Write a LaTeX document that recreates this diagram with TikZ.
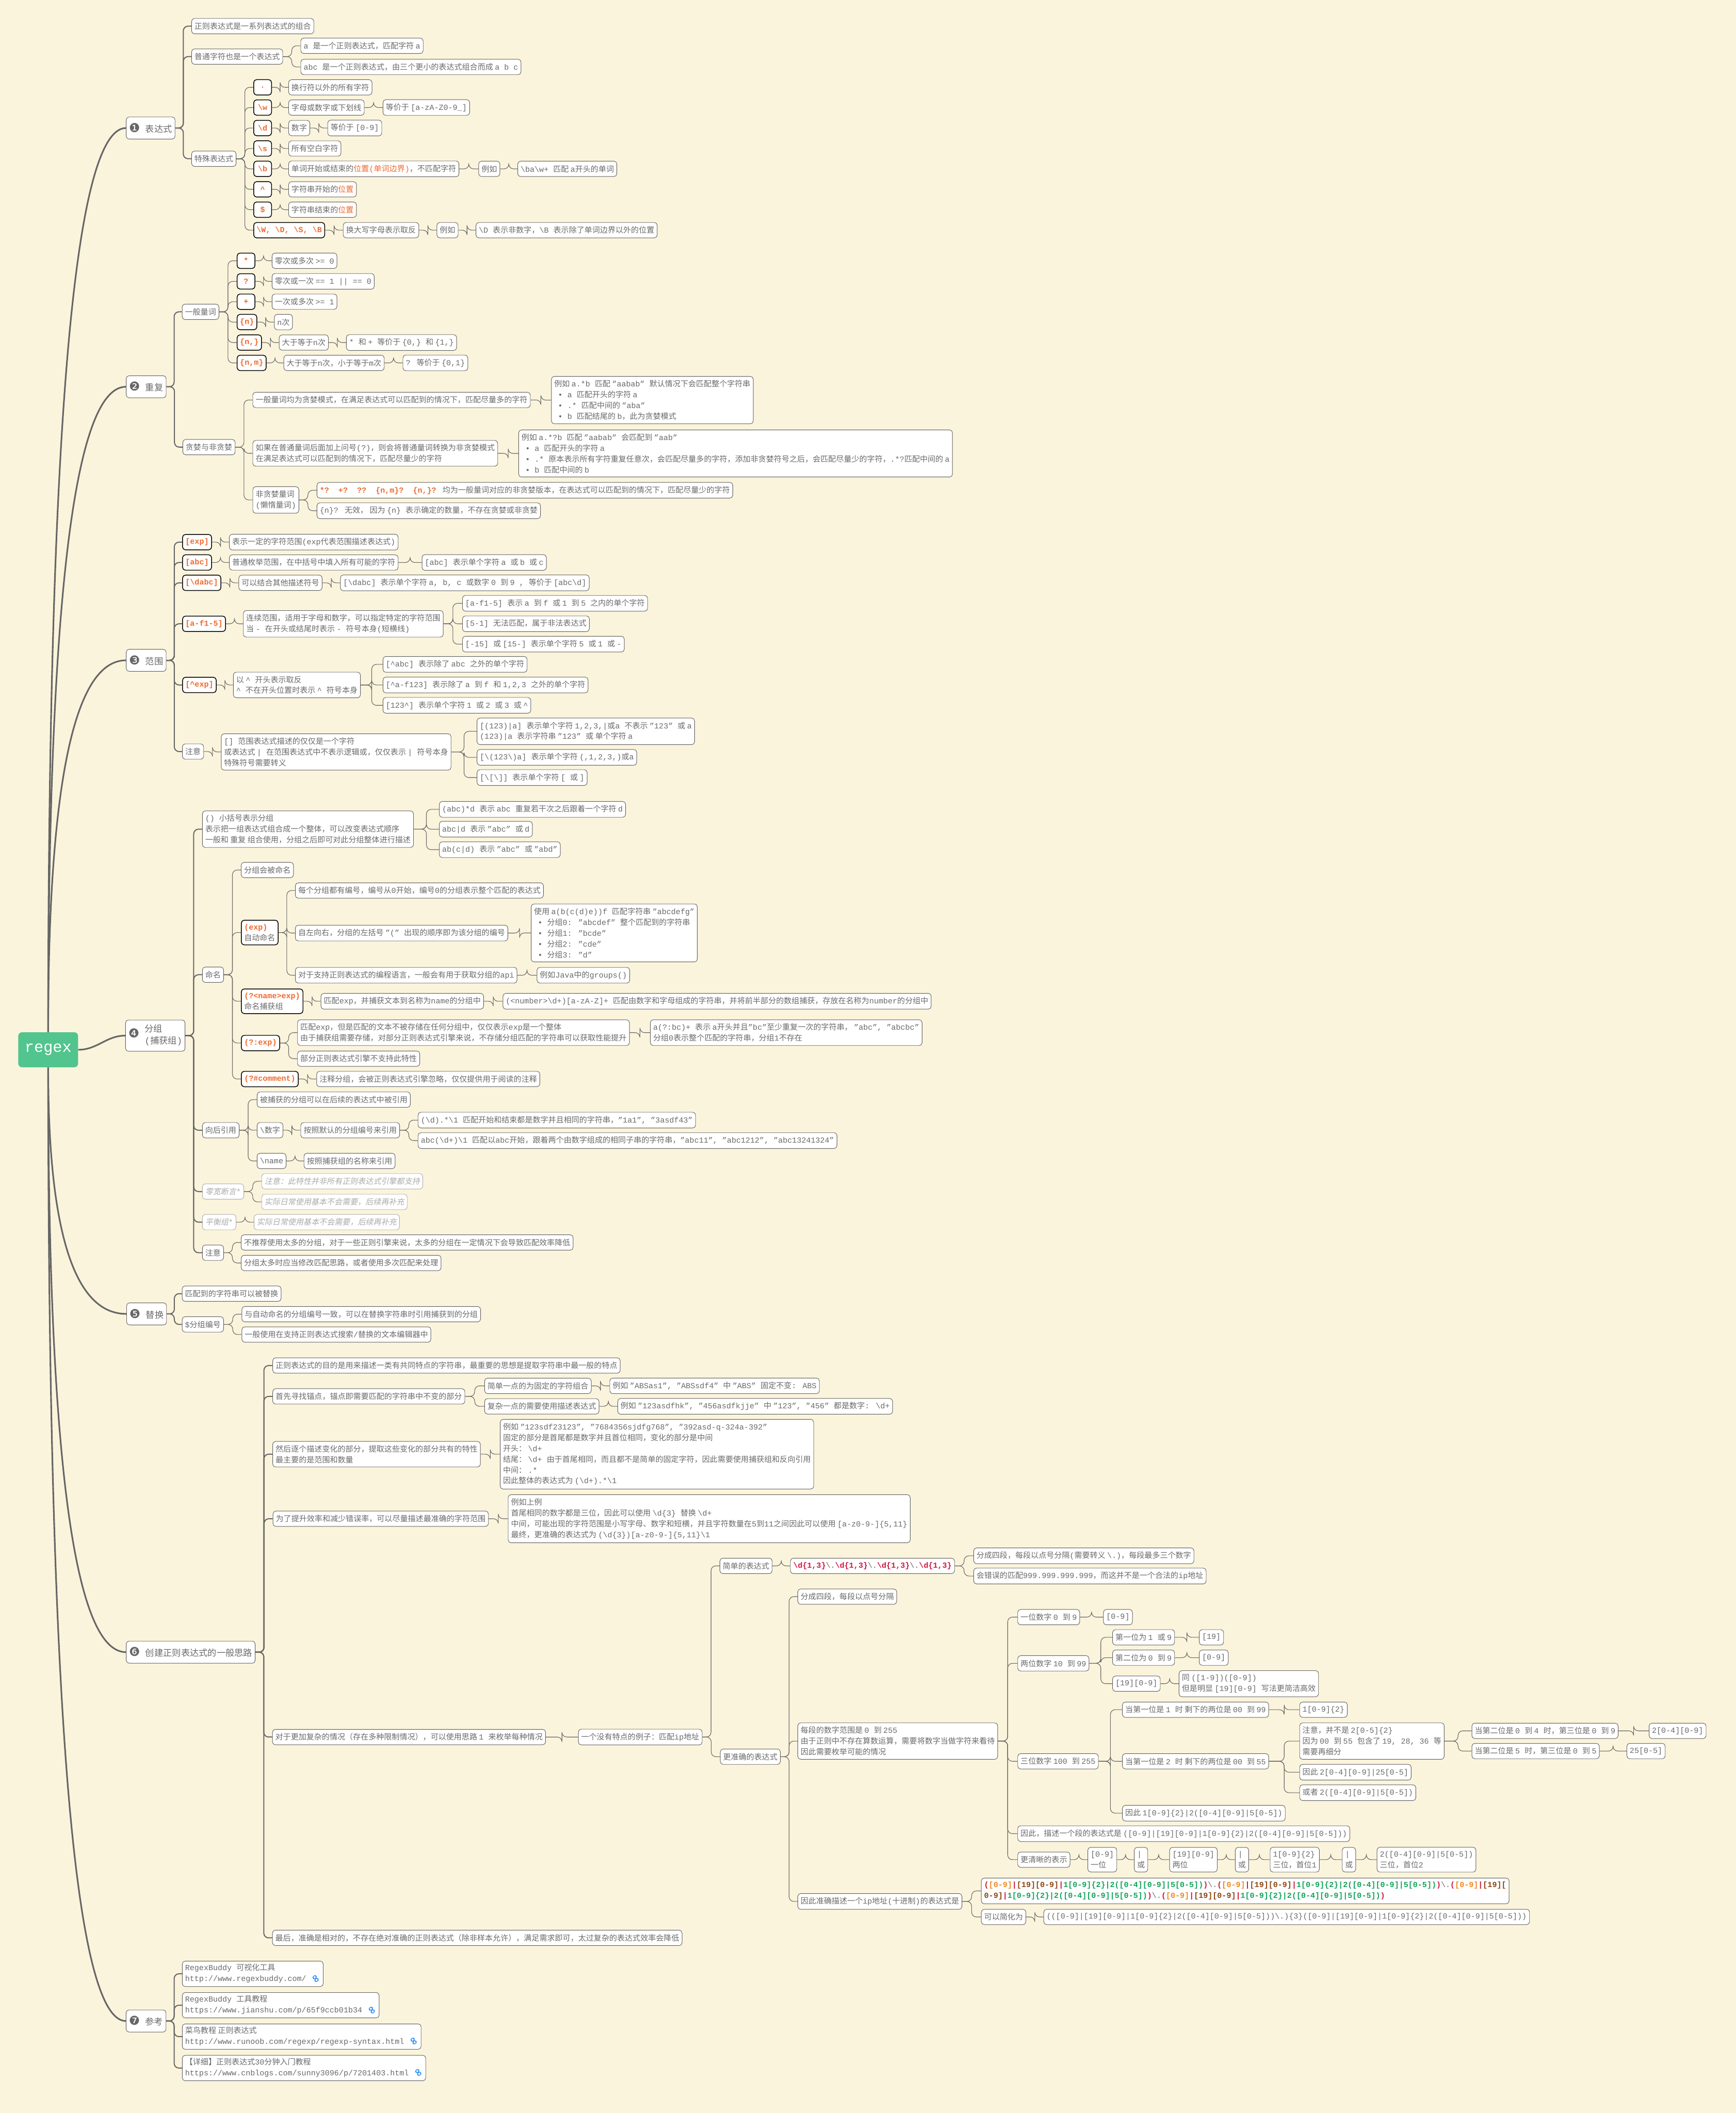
\documentclass[tikz,border=0pt]{standalone}
\usepackage{fontspec}
\usepackage{graphicx}
\usetikzlibrary{calc}

\setmainfont{Liberation Mono}
\newfontfamily\cjkregular{Noto Sans CJK SC}
\newfontfamily\cjkslanted{Noto Sans CJK SC}[FakeSlant=0.2]
\newfontfamily\dingfont{DejaVu Sans}
\let\cjkcur\cjkregular
\newcommand\tocjk{\cjkcur}
\newcommand\tolatin{\rmfamily}

% Han and full-width characters go to the CJK font, the rest stays mono
\XeTeXinterchartokenstate=1
\newXeTeXintercharclass\cjkclass
\newXeTeXintercharclass\symclass
\newcount\charidx
\newcommand\charrange[3]{\charidx=#2\relax
  \loop\XeTeXcharclass\charidx=#1\relax
    \ifnum\charidx<#3\relax\advance\charidx by 1\repeat}
\charrange\cjkclass{"3000}{"303F}
\charrange\cjkclass{"4E00}{"9FFF}
\charrange\cjkclass{"FF00}{"FFEF}
\charrange\symclass{"2776}{"277F}
\XeTeXcharclass"221E=\symclass
\XeTeXinterchartoks 0 \cjkclass={\tocjk}
\XeTeXinterchartoks 4095 \cjkclass={\tocjk}
\XeTeXinterchartoks \symclass \cjkclass={\tocjk}
\XeTeXinterchartoks \cjkclass 0={\tolatin}
\XeTeXinterchartoks 4095 0={\tolatin}
\XeTeXinterchartoks \symclass 0={\tolatin}

\definecolor{bgcream}{HTML}{FBF4DC}
\definecolor{linegray}{HTML}{666666}
\definecolor{boxgray}{HTML}{5E5E5E}
\definecolor{txtgray}{HTML}{6A6A6A}
\definecolor{keyorange}{HTML}{F06A2E}
\definecolor{rootgreen}{HTML}{52C48D}
\definecolor{numgray}{HTML}{666666}
\definecolor{faintgray}{HTML}{ABABAB}
\definecolor{linkblue}{HTML}{1F8AF2}
\definecolor{excrimson}{HTML}{D0163F}
\definecolor{exorange}{HTML}{EF8A1F}
\definecolor{exbrown}{HTML}{8B4513}
\definecolor{exgreen}{HTML}{13A35B}

\newcommand\bsl{\textbackslash}
\newcommand\crt{\textasciicircum}
\newcommand\bul{\hspace*{4pt}•\ }
\newcommand\secnum[1]{{\dingfont\fontsize{13}{13}\selectfont\color{numgray}#1}}
\newcommand\linkicon{\raisebox{-0.3ex}{\rotatebox{-55}{\dingfont\bfseries\fontsize{11}{11}\selectfont\color{linkblue}∞}}}
\newcommand\ipred[1]{\textcolor{excrimson}{\bfseries #1}}
\newcommand\iporange[1]{\textcolor{exorange}{\bfseries #1}}
\newcommand\ipbrown[1]{\textcolor{exbrown}{\bfseries #1}}
\newcommand\ipgreen[1]{\textcolor{exgreen}{\bfseries #1}}
\newcommand\ipdot{\textcolor{txtgray}{\bsl .}}
\newcommand\ipseg{\ipred{(}\iporange{[0-9]}\ipred{|}\ipbrown{[19][0-9]}\ipred{|}\ipgreen{1[0-9]\{2\}|2([0-4][0-9]|5[0-5])}\ipred{)}}

\begin{document}
\begin{tikzpicture}[
    x=0.05cm, y=-0.05cm,
    font=\fontsize{8.2}{11.4}\selectfont,
    box/.style={rectangle, draw=boxgray, fill=white, text=txtgray,
      rounded corners=3pt, line width=0.5pt, anchor=west, align=left,
      inner xsep=3pt, inner ysep=4pt, minimum height=0.57cm},
    keybox/.style={box, draw=black, line width=0.8pt, text=keyorange,
      minimum width=0.66cm, font=\fontsize{8.2}{11.4}\selectfont\bfseries},
    markbox/.style={box, draw=black, line width=0.8pt},
    faint/.style={box, draw=faintgray, text=faintgray,
      font=\fontsize{8.2}{11.4}\selectfont\let\cjkcur\cjkslanted},
    sect/.style={box, minimum height=0.82cm, font=\fontsize{9.4}{12.5}\selectfont},
    refbox/.style={box, inner ysep=2pt},
    root/.style={rectangle, fill=rootgreen, text=white, rounded corners=4pt,
      minimum width=2.22cm, minimum height=1.3cm,
      font=\fontsize{16.5}{18}\selectfont},
    link/.style={draw=linegray, line width=0.6pt, rounded corners=5pt,
      to path={-- ($(\tikztostart)!0.5!(\tikztostart -| \tikztotarget)$)
        |- (\tikztotarget)}},
    slink/.style={link, line width=1.1pt},
    rlink/.style={draw=linegray, line width=1.7pt,
      to path={.. controls ($(\tikztostart)!0.8!(\tikztostart |- \tikztotarget)$)
        and ($(\tikztotarget)+(-30,0)$) .. (\tikztotarget)}}
  ]
  \fill [bgcream] (0,0) rectangle (1288,1568);
  \useasboundingbox (0,0) rectangle (1288,1568);

  \node [root] (root) at (35.75, 779) {regex};

  % 1 表达式
  \node [sect] (s_expr) at (93.5, 95) {\secnum{❶}\ 表达式};
  \node [box] (e_combo) at (142, 19.4) {正则表达式是一系列表达式的组合};
  \node [box] (e_plain) at (142, 42) {普通字符也是一个表达式};
  \node [box] (e_a) at (223, 34) {a 是一个正则表达式，匹配字符 a};
  \node [box] (e_abc) at (223, 49.7) {abc 是一个正则表达式，由三个更小的表达式组合而成 a b c};
  \node [box] (e_special) at (142, 117.8) {特殊表达式};
  \node [keybox] (e_dot) at (188, 64.8) {.};
  \node [box] (e_dot_d) at (214, 64.8) {换行符以外的所有字符};
  \node [keybox] (e_w) at (188, 79.8) {\bsl w};
  \node [box] (e_w_d) at (214, 79.8) {字母或数字或下划线};
  \node [box] (e_w_eq) at (284, 79.8) {等价于 [a-zA-Z0-9\_]};
  \node [keybox] (e_d) at (188, 95) {\bsl d};
  \node [box] (e_d_d) at (214, 95) {数字};
  \node [box] (e_d_eq) at (243, 95) {等价于 [0-9]};
  \node [keybox] (e_s) at (188, 110.2) {\bsl s};
  \node [box] (e_s_d) at (214, 110.2) {所有空白字符};
  \node [keybox] (e_b) at (188, 125.3) {\bsl b};
  \node [box] (e_b_d) at (214, 125.3) {单词开始或结束的\textcolor{keyorange}{位置(单词边界)}，不匹配字符};
  \node [box] (e_b_eg) at (355, 125.3) {例如};
  \node [box] (e_b_ex) at (384, 125.3) {\bsl ba\bsl w+ 匹配 a开头的单词};
  \node [keybox] (e_start) at (188, 140.5) {\crt};
  \node [box] (e_start_d) at (214, 140.5) {字符串开始的\textcolor{keyorange}{位置}};
  \node [keybox] (e_end) at (188, 155.6) {\$};
  \node [box] (e_end_d) at (214, 155.6) {字符串结束的\textcolor{keyorange}{位置}};
  \node [keybox] (e_neg) at (188, 170.8) {\bsl W, \bsl D, \bsl S, \bsl B};
  \node [box] (e_neg_d) at (254.5, 170.8) {换大写字母表示取反};
  \node [box] (e_neg_eg) at (324, 170.8) {例如};
  \node [box] (e_neg_ex) at (353, 170.8) {\bsl D 表示非数字，\bsl B 表示除了单词边界以外的位置};

  % 2 重复
  \node [sect] (s_rep) at (93.5, 287) {\secnum{❷}\ 重复};
  \node [box] (q_general) at (135, 231.4) {一般量词};
  \node [keybox] (q_star) at (175.7, 193.5) {*};
  \node [box] (q_star_d) at (201.7, 193.5) {零次或多次 >= 0};
  \node [keybox] (q_opt) at (175.7, 208.8) {?};
  \node [box] (q_opt_d) at (201.7, 208.8) {零次或一次 == 1 || == 0};
  \node [keybox] (q_plus) at (175.7, 223.9) {+};
  \node [box] (q_plus_d) at (201.7, 223.9) {一次或多次 >= 1};
  \node [keybox] (q_n) at (175.7, 239) {\{n\}};
  \node [box] (q_n_d) at (203.4, 239) {n次};
  \node [keybox] (q_nmin) at (175.7, 254.2) {\{n,\}};
  \node [box] (q_nmin_d) at (207, 254.2) {大于等于n次};
  \node [box] (q_nmin_eq) at (256.8, 254.2) {* 和 + 等价于 \{0,\} 和 \{1,\}};
  \node [keybox] (q_nm) at (175.7, 269.3) {\{n,m\}};
  \node [box] (q_nm_d) at (210.4, 269.3) {大于等于n次，小于等于m次};
  \node [box] (q_nm_eq) at (298.8, 269.3) {? 等价于 \{0,1\}};
  \node [box] (q_greedy) at (135.5, 331.8) {贪婪与非贪婪};
  \node [box] (q_g1) at (187.4, 296.8) {一般量词均为贪婪模式，在满足表达式可以匹配到的情况下，匹配尽量多的字符};
  \node [box] (q_g1_ex) at (409, 296.9) {例如 a.*b 匹配 "aabab" 默认情况下会匹配整个字符串\\\bul a 匹配开头的字符 a\\\bul .* 匹配中间的 "aba"\\\bul b 匹配结尾的 b，此为贪婪模式};
  \node [box] (q_g2) at (187.4, 336.4) {如果在普通量词后面加上问号(?)，则会将普通量词转换为非贪婪模式\\在满足表达式可以匹配到的情况下，匹配尽量少的字符};
  \node [box] (q_g2_ex) at (384.7, 336.5) {例如 a.*?b 匹配 "aabab" 会匹配到 "aab"\\\bul a 匹配开头的字符 a\\\bul .* 原本表示所有字符重复任意次，会匹配尽量多的字符，添加非贪婪符号之后，会匹配尽量少的字符，.*?匹配中间的 a\\\bul b 匹配中间的 b};
  \node [box] (q_lazy) at (187.4, 371) {非贪婪量词\\(懒惰量词)};
  \node [box] (q_lazy1) at (235, 363.8) {\textcolor{keyorange}{\bfseries *?\ \ +?\ \ ??\ \ \{n,m\}?\ \ \{n,\}?} 均为一般量词对应的非贪婪版本，在表达式可以匹配到的情况下，匹配尽量少的字符};
  \node [box] (q_lazy2) at (235, 379) {\{n\}? 无效， 因为 \{n\} 表示确定的数量，不存在贪婪或非贪婪};

  % 3 范围
  \node [sect] (s_range) at (93.5, 490) {\secnum{❸}\ 范围};
  \node [keybox] (r_exp) at (135.2, 402.3) {[exp]};
  \node [box] (r_exp_d) at (170, 402.3) {表示一定的字符范围(exp代表范围描述表达式)};
  \node [keybox] (r_abc) at (135.2, 417.4) {[abc]};
  \node [box] (r_abc_d) at (170, 417.4) {普通枚举范围，在中括号中填入所有可能的字符};
  \node [box] (r_abc_ex) at (313, 417.4) {[abc] 表示单个字符 a 或 b 或 c};
  \node [keybox] (r_dabc) at (135.2, 432.5) {[\bsl dabc]};
  \node [box] (r_dabc_d) at (177, 432.5) {可以结合其他描述符号};
  \node [box] (r_dabc_ex) at (252.4, 432.5) {[\bsl dabc] 表示单个字符 a, b, c 或数字 0 到 9 , 等价于 [abc\bsl d]};
  \node [keybox] (r_span) at (135.2, 462.9) {[a-f1-5]};
  \node [box] (r_span_d) at (180.4, 462.9) {连续范围，适用于字母和数字，可以指定特定的字符范围\\当 - 在开头或结尾时表示 - 符号本身(短横线)};
  \node [box] (r_span1) at (343, 447.7) {[a-f1-5] 表示 a 到 f 或 1 到 5 之内的单个字符};
  \node [box] (r_span2) at (343, 462.9) {[5-1] 无法匹配，属于非法表达式};
  \node [box] (r_span3) at (343, 478) {[-15] 或 [15-] 表示单个字符 5 或 1 或 -};
  \node [keybox] (r_neg) at (135.2, 508.3) {[\crt exp]};
  \node [box] (r_neg_d) at (173, 508.3) {以 \crt{} 开头表示取反\\\crt{} 不在开头位置时表示 \crt{} 符号本身};
  \node [box] (r_neg1) at (284, 493) {[\crt abc] 表示除了 abc 之外的单个字符};
  \node [box] (r_neg2) at (284, 508.3) {[\crt a-f123] 表示除了 a 到 f 和 1,2,3 之外的单个字符};
  \node [box] (r_neg3) at (284, 523.4) {[123\crt] 表示单个字符 1 或 2 或 3 或 \crt};
  \node [box] (r_note) at (135.2, 557.7) {注意};
  \node [box] (r_note_d) at (164, 558) {[] 范围表达式描述的仅仅是一个字符\\或表达式 | 在范围表达式中不表示逻辑或，仅仅表示 | 符号本身\\特殊符号需要转义};
  \node [box] (r_note1) at (353.8, 542.7) {[(123)|a] 表示单个字符 1,2,3,|或a 不表示 "123" 或 a\\(123)|a 表示字符串 "123" 或 单个字符 a};
  \node [box] (r_note2) at (353.8, 562) {[\bsl (123\bsl )a] 表示单个字符 (,1,2,3,)或a};
  \node [box] (r_note3) at (353.8, 577) {[\bsl [\bsl ]] 表示单个字符 [ 或 ]};

  % 4 分组
  \node [sect] (s_group) at (93, 768.5) {\secnum{❹}\ \begin{tabular}{@{}l@{}}分组\\(捕获组)\end{tabular}};
  \node [box] (g_paren) at (150, 615.3) {() 小括号表示分组\\表示把一组表达式组合成一个整体，可以改变表达式顺序\\一般和 重复 组合使用，分组之后即可对此分组整体进行描述};
  \node [box] (g_paren1) at (325.8, 600.6) {(abc)*d 表示 abc 重复若干次之后跟着一个字符 d};
  \node [box] (g_paren2) at (325.8, 615.3) {abc|d 表示 "abc" 或 d};
  \node [box] (g_paren3) at (325.8, 630.5) {ab(c|d) 表示 "abc" 或 "abd"};
  \node [box] (g_name) at (150, 723.3) {命名};
  \node [box] (g_named) at (178.8, 645.6) {分组会被命名};
  \node [markbox] (g_auto) at (178.8, 692) {\textcolor{keyorange}{\bfseries (exp)}\\自动命名};
  \node [box] (g_auto1) at (219, 660.8) {每个分组都有编号，编号从0开始，编号0的分组表示整个匹配的表达式};
  \node [box] (g_auto2) at (219, 692.4) {自左向右，分组的左括号 "(" 出现的顺序即为该分组的编号};
  \node [box] (g_auto2_ex) at (394, 692.3) {使用 a(b(c(d)e))f 匹配字符串 "abcdefg"\\\bul 分组0: "abcdef" 整个匹配到的字符串\\\bul 分组1: "bcde"\\\bul 分组2: "cde"\\\bul 分组3: "d"};
  \node [box] (g_auto3) at (219, 723.7) {对于支持正则表达式的编程语言，一般会有用于获取分组的api};
  \node [box] (g_auto3_ex) at (398.3, 723.7) {例如Java中的groups()};
  \node [markbox] (g_namedcap) at (178.8, 743) {\textcolor{keyorange}{\bfseries (?<name>exp)}\\命名捕获组};
  \node [box] (g_namedcap1) at (238, 743) {匹配exp，并捕获文本到名称为name的分组中};
  \node [box] (g_namedcap_ex) at (373, 743) {(<number>\bsl d+)[a-zA-Z]+ 匹配由数字和字母组成的字符串，并将前半部分的数组捕获，存放在名称为number的分组中};
  \node [keybox] (g_noncap) at (178.8, 774) {(?:exp)};
  \node [box] (g_noncap1) at (220.6, 766.3) {匹配exp，但是匹配的文本不被存储在任何分组中，仅仅表示exp是一个整体\\由于捕获组需要存储，对部分正则表达式引擎来说，不存储分组匹配的字符串可以获取性能提升};
  \node [box] (g_noncap1_ex) at (482.4, 766.3) {a(?:bc)+ 表示 a开头并且"bc"至少重复一次的字符串， "abc", "abcbc"\\分组0表示整个匹配的字符串，分组1不存在};
  \node [box] (g_noncap2) at (220.6, 785.6) {部分正则表达式引擎不支持此特性};
  \node [keybox] (g_comment) at (178.8, 800.7) {(?\#comment)};
  \node [box] (g_comment1) at (234.8, 800.7) {注释分组，会被正则表达式引擎忽略，仅仅提供用于阅读的注释};
  \node [box] (g_back) at (150, 838.7) {向后引用};
  \node [box] (g_back1) at (190.6, 816) {被捕获的分组可以在后续的表达式中被引用};
  \node [box] (g_backnum) at (190.6, 838.7) {\bsl 数字};
  \node [box] (g_backnum1) at (223, 838.7) {按照默认的分组编号来引用};
  \node [box] (g_backnum_ex1) at (310, 831.2) {(\bsl d).*\bsl 1 匹配开始和结束都是数字并且相同的字符串，"1a1", "3asdf43"};
  \node [box] (g_backnum_ex2) at (310, 846.4) {abc(\bsl d+)\bsl 1 匹配以abc开始，跟着两个由数字组成的相同子串的字符串，"abc11", "abc1212", "abc13241324"};
  \node [box] (g_backname) at (190.6, 861.5) {\bsl name};
  \node [box] (g_backname1) at (225.4, 861.5) {按照捕获组的名称来引用};
  \node [faint] (g_look) at (150, 884.2) {零宽断言*};
  \node [faint] (g_look1) at (194, 876.6) {注意：此特性并非所有正则表达式引擎都支持};
  \node [faint] (g_look2) at (194, 891.9) {实际日常使用基本不会需要，后续再补充};
  \node [faint] (g_balance) at (150, 906.9) {平衡组*};
  \node [faint] (g_balance1) at (188.3, 906.9) {实际日常使用基本不会需要，后续再补充};
  \node [box] (g_note) at (150, 929.6) {注意};
  \node [box] (g_note1) at (178.8, 922) {不推荐使用太多的分组，对于一些正则引擎来说，太多的分组在一定情况下会导致匹配效率降低};
  \node [box] (g_note2) at (178.8, 937.2) {分组太多时应当修改匹配思路，或者使用多次匹配来处理};

  % 5 替换
  \node [sect] (s_repl) at (93.8, 975) {\secnum{❺}\ 替换};
  \node [box] (t_repl) at (135, 960) {匹配到的字符串可以被替换};
  \node [box] (t_num) at (135, 982.8) {\$分组编号};
  \node [box] (t_num1) at (179.3, 975.2) {与自动命名的分组编号一致，可以在替换字符串时引用捕获到的分组};
  \node [box] (t_num2) at (179.3, 990.3) {一般使用在支持正则表达式搜索/替换的文本编辑器中};

  % 6 创建正则表达式的一般思路
  \node [sect] (s_create) at (93.5, 1226) {\secnum{❻}\ 创建正则表达式的一般思路};
  \node [box] (c_aim) at (202.2, 1013.3) {正则表达式的目的是用来描述一类有共同特点的字符串，最重要的思想是提取字符串中最一般的特点};
  \node [box] (c_anchor) at (202.2, 1036.2) {首先寻找锚点，锚点即需要匹配的字符串中不变的部分};
  \node [box] (c_anchor1) at (359.4, 1028.4) {简单一点的为固定的字符组合};
  \node [box] (c_anchor1_ex) at (452.3, 1028.4) {例如 "ABSas1", "ABSsdf4" 中 "ABS" 固定不变: ABS};
  \node [box] (c_anchor2) at (359.4, 1043.6) {复杂一点的需要使用描述表达式};
  \node [box] (c_anchor2_ex) at (458.2, 1043.6) {例如 "123asdfhk", "456asdfkjje" 中 "123", "456" 都是数字: \bsl d+};
  \node [box] (c_vary) at (202.2, 1079.1) {然后逐个描述变化的部分，提取这些变化的部分共有的特性\\最主要的是范围和数量};
  \node [box] (c_vary_ex) at (371, 1079.1) {例如 "123sdf23123", "7684356sjdfg768", "392asd-q-324a-392"\\固定的部分是首尾都是数字并且首位相同，变化的部分是中间\\开头： \bsl d+\\结尾： \bsl d+ 由于首尾相同，而且都不是简单的固定字符，因此需要使用捕获组和反向引用\\中间： .*\\因此整体的表达式为 (\bsl d+).*\bsl 1};
  \node [box] (c_exact) at (202.4, 1127) {为了提升效率和减少错误率，可以尽量描述最准确的字符范围};
  \node [box] (c_exact_ex) at (376.9, 1127) {例如上例\\首尾相同的数字都是三位，因此可以使用 \bsl d\{3\} 替换 \bsl d+\\中间，可能出现的字符范围是小写字母、数字和短横，并且字符数量在5到11之间因此可以使用 [a-z0-9-]\{5,11\}\\最终，更准确的表达式为 (\bsl d\{3\})[a-z0-9-]\{5,11\}\bsl 1};
  \node [box] (c_complex) at (202, 1289) {对于更加复杂的情况（存在多种限制情况），可以使用思路 1 来枚举每种情况};
  \node [box] (c_ip) at (429, 1289) {一个没有特点的例子：匹配ip地址};
  \node [box] (c_simple) at (534, 1162) {简单的表达式};
  \node [box] (c_simple_re) at (586.3, 1162) {\ipred{\bsl d\{1,3\}}\ipdot\ipred{\bsl d\{1,3\}}\ipdot\ipred{\bsl d\{1,3\}}\ipdot\ipred{\bsl d\{1,3\}}};
  \node [box] (c_simple1) at (722.3, 1154.5) {分成四段，每段以点号分隔(需要转义 \bsl .)，每段最多三个数字};
  \node [box] (c_simple2) at (722.3, 1169.5) {会错误的匹配999.999.999.999，而这并不是一个合法的ip地址};
  \node [box] (c_precise) at (534.3, 1303.6) {更准确的表达式};
  \node [box] (c_four) at (591.8, 1184.8) {分成四段，每段以点号分隔};
  \node [box] (c_seg) at (591.8, 1292) {每段的数字范围是 0 到 255\\由于正则中不存在算数运算，需要将数字当做字符来看待\\因此需要枚举可能的情况};
  \node [box] (c_one) at (755, 1200) {一位数字 0 到 9};
  \node [box] (c_one_re) at (818.6, 1200) {[0-9]};
  \node [box] (c_two) at (755, 1234.3) {两位数字 10 到 99};
  \node [box] (c_two1) at (825.4, 1215) {第一位为 1 或 9};
  \node [box] (c_two1_re) at (889.7, 1215) {[19]};
  \node [box] (c_two2) at (825.4, 1230.1) {第二位为 0 到 9};
  \node [box] (c_two2_re) at (889.7, 1230.1) {[0-9]};
  \node [box] (c_two3) at (825.4, 1249.4) {[19][0-9]};
  \node [box] (c_two3_d) at (874.7, 1249.4) {同 ([1-9])([0-9])\\但是明显 [19][0-9] 写法更简洁高效};
  \node [box] (c_three) at (755, 1307) {三位数字 100 到 255};
  \node [box] (c_three1) at (832.7, 1268.7) {当第一位是 1 时 剩下的两位是 00 到 99};
  \node [box] (c_three1_re) at (964.2, 1268.7) {1[0-9]\{2\}};
  \node [box] (c_three2) at (832.7, 1307) {当第一位是 2 时 剩下的两位是 00 到 55};
  \node [box] (c_three2_d) at (964.2, 1292) {注意，并不是 2[0-5]\{2\}\\因为 00 到 55 包含了 19, 28, 36 等\\需要再细分};
  \node [box] (c_low) at (1092, 1284.4) {当第二位是 0 到 4 时，第三位是 0 到 9};
  \node [box] (c_low_re) at (1223.5, 1284.4) {2[0-4][0-9]};
  \node [box] (c_high) at (1092, 1299.4) {当第二位是 5 时，第三位是 0 到 5};
  \node [box] (c_high_re) at (1207, 1299.4) {25[0-5]};
  \node [box] (c_three2_a) at (964.2, 1315.1) {因此 2[0-4][0-9]|25[0-5]};
  \node [box] (c_three2_b) at (964.2, 1330.3) {或者 2([0-4][0-9]|5[0-5])};
  \node [box] (c_three3) at (832.7, 1345.5) {因此 1[0-9]\{2\}|2([0-4][0-9]|5[0-5])};
  \node [box] (c_segre) at (755, 1360.7) {因此，描述一个段的表达式是 ([0-9]|[19][0-9]|1[0-9]\{2\}|2([0-4][0-9]|5[0-5]))};
  \node [box] (c_clear) at (755, 1380) {更清晰的表示};
  \node [box] (c_w1) at (807, 1380) {[0-9]\\一位};
  \node [box] (c_w2) at (841.5, 1380) {|\\或};
  \node [box] (c_w3) at (867.7, 1380) {[19][0-9]\\两位};
  \node [box] (c_w4) at (916.4, 1380) {|\\或};
  \node [box] (c_w5) at (942.3, 1380) {1[0-9]\{2\}\\三位，首位1};
  \node [box] (c_w6) at (995.8, 1380) {|\\或};
  \node [box] (c_w7) at (1021.6, 1380) {2([0-4][0-9]|5[0-5])\\三位，首位2};
  \node [box] (c_ipre) at (591.8, 1411) {因此准确描述一个ip地址(十进制)的表达式是};
  \node [box] (c_ipre_full) at (728, 1403.2) {\ipseg\ipdot\ipseg\ipdot\ipred{(}\iporange{[0-9]}\ipred{|}\ipbrown{[19][}\\\ipbrown{0-9]}\ipred{|}\ipgreen{1[0-9]\{2\}|2([0-4][0-9]|5[0-5])}\ipred{)}\ipdot\ipseg};
  \node [box] (c_ipre_short) at (728, 1422.5) {可以简化为};
  \node [box] (c_ipre_short_re) at (774.3, 1422.5) {(([0-9]|[19][0-9]|1[0-9]\{2\}|2([0-4][0-9]|5[0-5]))\bsl .)\{3\}([0-9]|[19][0-9]|1[0-9]\{2\}|2([0-4][0-9]|5[0-5]))};
  \node [box] (c_last) at (202, 1438) {最后，准确是相对的，不存在绝对准确的正则表达式（除非样本允许），满足需求即可，太过复杂的表达式效率会降低};

  % 7 参考
  \node [sect] (s_ref) at (93.4, 1499.7) {\secnum{❼}\ 参考};
  \node [refbox] (f_buddy) at (135.1, 1464.7) {\begin{tabular}{@{}l@{}}RegexBuddy 可视化工具\\http://www.regexbuddy.com/\end{tabular}\hspace{5pt}\linkicon};
  \node [refbox] (f_tutor) at (135.1, 1488) {\begin{tabular}{@{}l@{}}RegexBuddy 工具教程\\https://www.jianshu.com/p/65f9ccb01b34\end{tabular}\hspace{5pt}\linkicon};
  \node [refbox] (f_runoob) at (135.1, 1511.3) {\begin{tabular}{@{}l@{}}菜鸟教程 正则表达式\\http://www.runoob.com/regexp/regexp-syntax.html\end{tabular}\hspace{5pt}\linkicon};
  \node [refbox] (f_blog) at (135.1, 1534.6) {\begin{tabular}{@{}l@{}}【详细】正则表达式30分钟入门教程\\https://www.cnblogs.com/sunny3096/p/7201403.html\end{tabular}\hspace{5pt}\linkicon};

  % root to sections
  \path [rlink] (root.north) to (s_expr.west);
  \path [rlink] (root.north) to (s_rep.west);
  \path [rlink] (root.north) to (s_range.west);
  \draw [linegray, line width=1.7pt] (root.east) to[out=0, in=180] (s_group.west);
  \path [rlink] (root.south) to (s_repl.west);
  \path [rlink] (root.south) to (s_create.west);
  \path [rlink] (root.south) to (s_ref.west);

  % 1
  \path [slink] (s_expr.east) to (e_combo.west);
  \path [slink] (s_expr.east) to (e_plain.west);
  \path [slink] (s_expr.east) to (e_special.west);
  \path [link] (e_plain.east) to (e_a.west);
  \path [link] (e_plain.east) to (e_abc.west);
  \path [link] (e_special.east) to (e_dot.west);
  \path [link] (e_special.east) to (e_w.west);
  \path [link] (e_special.east) to (e_d.west);
  \path [link] (e_special.east) to (e_s.west);
  \path [link] (e_special.east) to (e_b.west);
  \path [link] (e_special.east) to (e_start.west);
  \path [link] (e_special.east) to (e_end.west);
  \path [link] (e_special.east) to (e_neg.west);
  \path [link] (e_dot.east) to (e_dot_d.west);
  \path [link] (e_w.east) to (e_w_d.west);
  \path [link] (e_w_d.east) to (e_w_eq.west);
  \path [link] (e_d.east) to (e_d_d.west);
  \path [link] (e_d_d.east) to (e_d_eq.west);
  \path [link] (e_s.east) to (e_s_d.west);
  \path [link] (e_b.east) to (e_b_d.west);
  \path [link] (e_b_d.east) to (e_b_eg.west);
  \path [link] (e_b_eg.east) to (e_b_ex.west);
  \path [link] (e_start.east) to (e_start_d.west);
  \path [link] (e_end.east) to (e_end_d.west);
  \path [link] (e_neg.east) to (e_neg_d.west);
  \path [link] (e_neg_d.east) to (e_neg_eg.west);
  \path [link] (e_neg_eg.east) to (e_neg_ex.west);

  % 2
  \path [slink] (s_rep.east) to (q_general.west);
  \path [slink] (s_rep.east) to (q_greedy.west);
  \path [link] (q_general.east) to (q_star.west);
  \path [link] (q_general.east) to (q_opt.west);
  \path [link] (q_general.east) to (q_plus.west);
  \path [link] (q_general.east) to (q_n.west);
  \path [link] (q_general.east) to (q_nmin.west);
  \path [link] (q_general.east) to (q_nm.west);
  \path [link] (q_star.east) to (q_star_d.west);
  \path [link] (q_opt.east) to (q_opt_d.west);
  \path [link] (q_plus.east) to (q_plus_d.west);
  \path [link] (q_n.east) to (q_n_d.west);
  \path [link] (q_nmin.east) to (q_nmin_d.west);
  \path [link] (q_nmin_d.east) to (q_nmin_eq.west);
  \path [link] (q_nm.east) to (q_nm_d.west);
  \path [link] (q_nm_d.east) to (q_nm_eq.west);
  \path [link] (q_greedy.east) to (q_g1.west);
  \path [link] (q_greedy.east) to (q_g2.west);
  \path [link] (q_greedy.east) to (q_lazy.west);
  \path [link] (q_g1.east) to (q_g1_ex.west);
  \path [link] (q_g2.east) to (q_g2_ex.west);
  \path [link] (q_lazy.east) to (q_lazy1.west);
  \path [link] (q_lazy.east) to (q_lazy2.west);

  % 3
  \path [slink] (s_range.east) to (r_exp.west);
  \path [slink] (s_range.east) to (r_abc.west);
  \path [slink] (s_range.east) to (r_dabc.west);
  \path [slink] (s_range.east) to (r_span.west);
  \path [slink] (s_range.east) to (r_neg.west);
  \path [slink] (s_range.east) to (r_note.west);
  \path [link] (r_exp.east) to (r_exp_d.west);
  \path [link] (r_abc.east) to (r_abc_d.west);
  \path [link] (r_abc_d.east) to (r_abc_ex.west);
  \path [link] (r_dabc.east) to (r_dabc_d.west);
  \path [link] (r_dabc_d.east) to (r_dabc_ex.west);
  \path [link] (r_span.east) to (r_span_d.west);
  \path [link] (r_span_d.east) to (r_span1.west);
  \path [link] (r_span_d.east) to (r_span2.west);
  \path [link] (r_span_d.east) to (r_span3.west);
  \path [link] (r_neg.east) to (r_neg_d.west);
  \path [link] (r_neg_d.east) to (r_neg1.west);
  \path [link] (r_neg_d.east) to (r_neg2.west);
  \path [link] (r_neg_d.east) to (r_neg3.west);
  \path [link] (r_note.east) to (r_note_d.west);
  \path [link] (r_note_d.east) to (r_note1.west);
  \path [link] (r_note_d.east) to (r_note2.west);
  \path [link] (r_note_d.east) to (r_note3.west);

  % 4
  \path [slink] (s_group.east) to (g_paren.west);
  \path [slink] (s_group.east) to (g_name.west);
  \path [slink] (s_group.east) to (g_back.west);
  \path [slink] (s_group.east) to (g_look.west);
  \path [slink] (s_group.east) to (g_balance.west);
  \path [slink] (s_group.east) to (g_note.west);
  \path [link] (g_paren.east) to (g_paren1.west);
  \path [link] (g_paren.east) to (g_paren2.west);
  \path [link] (g_paren.east) to (g_paren3.west);
  \path [link] (g_name.east) to (g_named.west);
  \path [link] (g_name.east) to (g_auto.west);
  \path [link] (g_name.east) to (g_namedcap.west);
  \path [link] (g_name.east) to (g_noncap.west);
  \path [link] (g_name.east) to (g_comment.west);
  \path [link] (g_auto.east) to (g_auto1.west);
  \path [link] (g_auto.east) to (g_auto2.west);
  \path [link] (g_auto.east) to (g_auto3.west);
  \path [link] (g_auto2.east) to (g_auto2_ex.west);
  \path [link] (g_auto3.east) to (g_auto3_ex.west);
  \path [link] (g_namedcap.east) to (g_namedcap1.west);
  \path [link] (g_namedcap1.east) to (g_namedcap_ex.west);
  \path [link] (g_noncap.east) to (g_noncap1.west);
  \path [link] (g_noncap.east) to (g_noncap2.west);
  \path [link] (g_noncap1.east) to (g_noncap1_ex.west);
  \path [link] (g_comment.east) to (g_comment1.west);
  \path [link] (g_back.east) to (g_back1.west);
  \path [link] (g_back.east) to (g_backnum.west);
  \path [link] (g_back.east) to (g_backname.west);
  \path [link] (g_backnum.east) to (g_backnum1.west);
  \path [link] (g_backnum1.east) to (g_backnum_ex1.west);
  \path [link] (g_backnum1.east) to (g_backnum_ex2.west);
  \path [link] (g_backname.east) to (g_backname1.west);
  \path [link] (g_look.east) to (g_look1.west);
  \path [link] (g_look.east) to (g_look2.west);
  \path [link] (g_balance.east) to (g_balance1.west);
  \path [link] (g_note.east) to (g_note1.west);
  \path [link] (g_note.east) to (g_note2.west);

  % 5
  \path [slink] (s_repl.east) to (t_repl.west);
  \path [slink] (s_repl.east) to (t_num.west);
  \path [link] (t_num.east) to (t_num1.west);
  \path [link] (t_num.east) to (t_num2.west);

  % 6
  \path [slink] (s_create.east) to (c_aim.west);
  \path [slink] (s_create.east) to (c_anchor.west);
  \path [slink] (s_create.east) to (c_vary.west);
  \path [slink] (s_create.east) to (c_exact.west);
  \path [slink] (s_create.east) to (c_complex.west);
  \path [slink] (s_create.east) to (c_last.west);
  \path [link] (c_anchor.east) to (c_anchor1.west);
  \path [link] (c_anchor.east) to (c_anchor2.west);
  \path [link] (c_anchor1.east) to (c_anchor1_ex.west);
  \path [link] (c_anchor2.east) to (c_anchor2_ex.west);
  \path [link] (c_vary.east) to (c_vary_ex.west);
  \path [link] (c_exact.east) to (c_exact_ex.west);
  \path [link] (c_complex.east) to (c_ip.west);
  \path [link] (c_ip.east) to (c_simple.west);
  \path [link] (c_ip.east) to (c_precise.west);
  \path [link] (c_simple.east) to (c_simple_re.west);
  \path [link] (c_simple_re.east) to (c_simple1.west);
  \path [link] (c_simple_re.east) to (c_simple2.west);
  \path [link] (c_precise.east) to (c_four.west);
  \path [link] (c_precise.east) to (c_seg.west);
  \path [link] (c_precise.east) to (c_ipre.west);
  \path [link] (c_seg.east) to (c_one.west);
  \path [link] (c_seg.east) to (c_two.west);
  \path [link] (c_seg.east) to (c_three.west);
  \path [link] (c_seg.east) to (c_segre.west);
  \path [link] (c_seg.east) to (c_clear.west);
  \path [link] (c_one.east) to (c_one_re.west);
  \path [link] (c_two.east) to (c_two1.west);
  \path [link] (c_two.east) to (c_two2.west);
  \path [link] (c_two.east) to (c_two3.west);
  \path [link] (c_two1.east) to (c_two1_re.west);
  \path [link] (c_two2.east) to (c_two2_re.west);
  \path [link] (c_two3.east) to (c_two3_d.west);
  \path [link] (c_three.east) to (c_three1.west);
  \path [link] (c_three.east) to (c_three2.west);
  \path [link] (c_three.east) to (c_three3.west);
  \path [link] (c_three1.east) to (c_three1_re.west);
  \path [link] (c_three2.east) to (c_three2_d.west);
  \path [link] (c_three2.east) to (c_three2_a.west);
  \path [link] (c_three2.east) to (c_three2_b.west);
  \path [link] (c_three2_d.east) to (c_low.west);
  \path [link] (c_three2_d.east) to (c_high.west);
  \path [link] (c_low.east) to (c_low_re.west);
  \path [link] (c_high.east) to (c_high_re.west);
  \path [link] (c_clear.east) to (c_w1.west);
  \path [link] (c_w1.east) to (c_w2.west);
  \path [link] (c_w2.east) to (c_w3.west);
  \path [link] (c_w3.east) to (c_w4.west);
  \path [link] (c_w4.east) to (c_w5.west);
  \path [link] (c_w5.east) to (c_w6.west);
  \path [link] (c_w6.east) to (c_w7.west);
  \path [link] (c_ipre.east) to (c_ipre_full.west);
  \path [link] (c_ipre.east) to (c_ipre_short.west);
  \path [link] (c_ipre_short.east) to (c_ipre_short_re.west);

  % 7
  \path [slink] (s_ref.east) to (f_buddy.west);
  \path [slink] (s_ref.east) to (f_tutor.west);
  \path [slink] (s_ref.east) to (f_runoob.west);
  \path [slink] (s_ref.east) to (f_blog.west);
\end{tikzpicture}
\end{document}
